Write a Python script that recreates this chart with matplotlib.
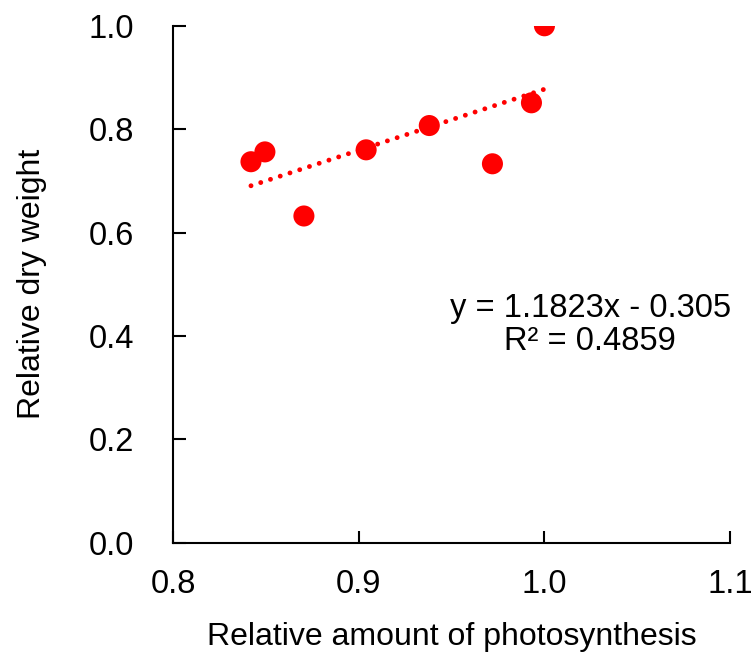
import numpy as np
import matplotlib.pyplot as plt

plt.rcParams['font.family'] = ['Liberation Sans', 'DejaVu Sans']

# Data
photo = [0.842, 0.8495, 0.8705, 0.904, 0.938, 0.972, 0.993, 1.0]
dry_weight = [0.737, 0.756, 0.632, 0.760, 0.807, 0.733, 0.851, 1.0]
slope = 1.1823
intercept = -0.305
r2 = 0.4859

fig = plt.figure(figsize=(7.52, 6.61), dpi=100)
ax = fig.add_axes([0.230, 0.179, 0.741, 0.782])

# Linear trendline over the data range
xt = np.array([min(photo), max(photo)])
ax.plot(xt, slope * xt + intercept, color='red', lw=3.5,
        linestyle=(0, (0.01, 2.1)), dash_capstyle='round', zorder=2)
ax.scatter(photo, dry_weight, s=230, color='red', edgecolors='none', zorder=3)

ax.text(1.0246, 0.422, f"y = {slope}x - {abs(intercept)}\nR² = {r2}",
        ha='center', va='center', fontsize=23.5, linespacing=1.08,
        transform=ax.get_xaxis_transform())

ax.set_xlim(0.8, 1.1)
ax.set_ylim(0.0, 1.0)
ax.set_xticks([0.8, 0.9, 1.0, 1.1])
ax.set_yticks([0.0, 0.2, 0.4, 0.6, 0.8, 1.0])
ax.xaxis.set_major_formatter(plt.FormatStrFormatter('%.1f'))
ax.yaxis.set_major_formatter(plt.FormatStrFormatter('%.1f'))
ax.tick_params(direction='in', length=9, width=1.5, labelsize=23.5)
ax.tick_params(axis='x', pad=19)
ax.tick_params(axis='y', pad=28)
for s in ['top', 'right']:
    ax.spines[s].set_visible(False)
for s in ['left', 'bottom']:
    ax.spines[s].set_linewidth(1.5)

ax.set_xlabel("Relative amount of photosynthesis", fontsize=23, labelpad=16)
ax.set_ylabel("Relative dry weight", fontsize=23, labelpad=30)

fig.savefig("out.png", dpi=100)
